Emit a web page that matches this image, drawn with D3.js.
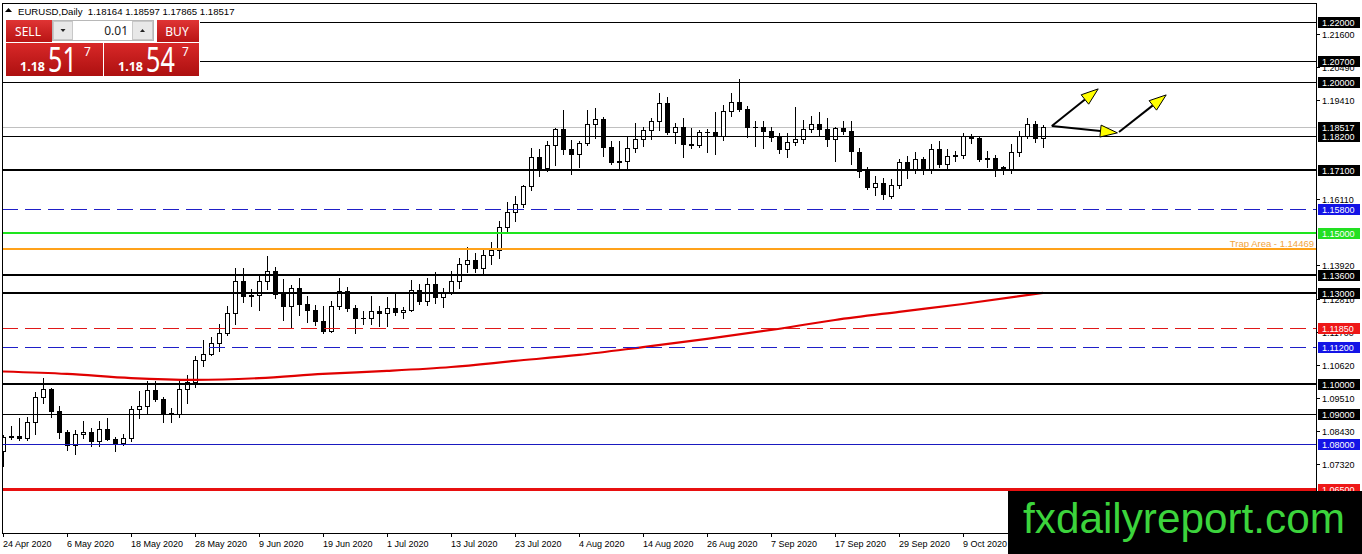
<!DOCTYPE html>
<html><head><meta charset="utf-8">
<script src="https://cdn.jsdelivr.net/npm/d3@7/dist/d3.min.js"></script>
<style>
html,body{margin:0;padding:0;background:#fff;overflow:hidden}
svg{display:block;font-family:"Liberation Sans",Arial,sans-serif}
</style></head><body>
<svg id="c" width="1362" height="554"></svg>
<script>
// ---------- DATA ----------
const symbolTitle = "EURUSD,Daily  1.18164 1.18597 1.17865 1.18517";
const dates = [
"2020-04-24","2020-04-27","2020-04-28","2020-04-29","2020-04-30",
"2020-05-01","2020-05-04","2020-05-05","2020-05-06","2020-05-07","2020-05-08","2020-05-11","2020-05-12","2020-05-13","2020-05-14","2020-05-15",
"2020-05-18","2020-05-19","2020-05-20","2020-05-21","2020-05-22","2020-05-25","2020-05-26","2020-05-27","2020-05-28","2020-05-29",
"2020-06-01","2020-06-02","2020-06-03","2020-06-04","2020-06-05","2020-06-08","2020-06-09","2020-06-10","2020-06-11","2020-06-12",
"2020-06-15","2020-06-16","2020-06-17","2020-06-18","2020-06-19","2020-06-22","2020-06-23","2020-06-24","2020-06-25","2020-06-26","2020-06-29","2020-06-30",
"2020-07-01","2020-07-02","2020-07-03","2020-07-06","2020-07-07","2020-07-08","2020-07-09","2020-07-10","2020-07-13","2020-07-14","2020-07-15","2020-07-16","2020-07-17",
"2020-07-20","2020-07-21","2020-07-22","2020-07-23","2020-07-24","2020-07-27","2020-07-28","2020-07-29","2020-07-30","2020-07-31",
"2020-08-03","2020-08-04","2020-08-05","2020-08-06","2020-08-07","2020-08-10","2020-08-11","2020-08-12","2020-08-13","2020-08-14",
"2020-08-17","2020-08-18","2020-08-19","2020-08-20","2020-08-21","2020-08-24","2020-08-25","2020-08-26","2020-08-27","2020-08-28","2020-08-31",
"2020-09-01","2020-09-02","2020-09-03","2020-09-04","2020-09-07","2020-09-08","2020-09-09","2020-09-10","2020-09-11",
"2020-09-14","2020-09-15","2020-09-16","2020-09-17","2020-09-18","2020-09-21","2020-09-22","2020-09-23","2020-09-24","2020-09-25","2020-09-28","2020-09-29","2020-09-30",
"2020-10-01","2020-10-02","2020-10-05","2020-10-06","2020-10-07","2020-10-08","2020-10-09","2020-10-12","2020-10-13","2020-10-14","2020-10-15","2020-10-16",
"2020-10-19","2020-10-20","2020-10-21","2020-10-22","2020-10-23"];
const open = [1.0776,1.0822,1.0827,1.0820,1.0874,1.0954,1.0982,1.0909,1.0838,1.0795,1.0834,1.0840,1.0808,1.0850,1.0817,1.0804,1.0820,1.0917,1.0924,1.0980,
1.0950,1.0901,1.0900,1.0981,1.1004,1.1077,1.1098,1.1134,1.1168,1.1235,1.1340,1.1290,1.1294,1.1341,1.1372,1.1298,1.1256,1.1318,1.1263,1.1244,
1.1206,1.1176,1.1258,1.1308,1.1251,1.1219,1.1218,1.1240,1.1233,1.1251,1.1237,1.1245,1.1310,1.1274,1.1330,1.1287,1.1300,1.1341,1.1396,1.1411,
1.1382,1.1428,1.1444,1.1521,1.1570,1.1595,1.1656,1.1752,1.1717,1.1791,1.1845,1.1777,1.1761,1.1800,1.1860,1.1877,1.1785,1.1736,1.1738,1.1783,
1.1811,1.1842,1.1870,1.1931,1.1836,1.1851,1.1795,1.1791,1.1834,1.1836,1.1822,1.1903,1.1936,1.1911,1.1852,1.1850,1.1837,1.1818,1.1779,1.1802,
1.1813,1.1845,1.1862,1.1845,1.1812,1.1848,1.1838,1.1769,1.1705,1.1654,1.1667,1.1622,1.1660,1.1735,1.1712,1.1745,1.1708,1.1778,1.1728,1.1755,
1.1757,1.1823,1.1815,1.1745,1.1747,1.1720,1.1712,1.1768,1.1820,1.1860,1.18164];
const high = [1.0829,1.0860,1.0887,1.0889,1.0973,1.1019,1.0985,1.0927,1.0846,1.0847,1.0876,1.0852,1.0875,1.0887,1.0823,1.0832,1.0927,1.0975,1.1008,1.1008,
1.0956,1.0918,1.1010,1.1030,1.1090,1.1146,1.1155,1.1198,1.1257,1.1384,1.1384,1.1315,1.1360,1.1422,1.1388,1.1346,1.1328,1.1350,1.1292,1.1260,
1.1257,1.1273,1.1349,1.1322,1.1261,1.1241,1.1289,1.1257,1.1287,1.1303,1.1255,1.1345,1.1330,1.1349,1.1371,1.1317,1.1375,1.1416,1.1452,1.1434,
1.1442,1.1469,1.1540,1.1601,1.1622,1.1660,1.1781,1.1777,1.1805,1.1848,1.1908,1.1809,1.1806,1.1909,1.1916,1.1884,1.1804,1.1806,1.1817,1.1866,
1.1851,1.1882,1.1966,1.1951,1.1866,1.1883,1.1849,1.1842,1.1845,1.1900,1.1926,1.1966,1.2011,1.1920,1.1870,1.1872,1.1850,1.1833,1.1833,1.1917,
1.1874,1.1887,1.1900,1.1882,1.1850,1.1872,1.1872,1.1782,1.1718,1.1689,1.1681,1.1679,1.1745,1.1754,1.1770,1.1753,1.1795,1.1806,1.1778,1.1772,
1.1831,1.1829,1.1822,1.1773,1.1760,1.1723,1.1794,1.1838,1.1881,1.1870,1.18597];
const low = [1.0727,1.0816,1.0812,1.0812,1.0832,1.0937,1.0890,1.0818,1.0781,1.0766,1.0820,1.0794,1.0792,1.0812,1.0775,1.0795,1.0808,1.0885,1.0902,1.0942,
1.0871,1.0871,1.0890,1.0934,1.0988,1.1059,1.1094,1.1107,1.1161,1.1196,1.1272,1.1259,1.1245,1.1315,1.1285,1.1211,1.1188,1.1227,1.1205,1.1194,
1.1168,1.1172,1.1247,1.1240,1.1167,1.1199,1.1196,1.1190,1.1190,1.1227,1.1219,1.1241,1.1265,1.1260,1.1267,1.1255,1.1298,1.1317,1.1371,1.1370,
1.1368,1.1396,1.1416,1.1507,1.1538,1.1587,1.1641,1.1689,1.1704,1.1726,1.1762,1.1696,1.1718,1.1792,1.1816,1.1754,1.1728,1.1711,1.1712,1.1770,
1.1788,1.1811,1.1840,1.1829,1.1798,1.1753,1.1782,1.1786,1.1768,1.1762,1.1810,1.1887,1.1903,1.1819,1.1789,1.1781,1.1805,1.1765,1.1753,1.1793,
1.1800,1.1834,1.1821,1.1789,1.1737,1.1827,1.1728,1.1685,1.1645,1.1627,1.1612,1.1615,1.1650,1.1683,1.1700,1.1695,1.1700,1.1720,1.1717,1.1740,
1.1750,1.1800,1.1737,1.1720,1.1688,1.1695,1.1700,1.1755,1.1816,1.1802,1.17865];
const close = [1.0822,1.0827,1.0820,1.0874,1.0954,1.0982,1.0909,1.0838,1.0795,1.0834,1.0840,1.0808,1.0850,1.0817,1.0804,1.0820,1.0917,1.0924,1.0980,1.0950,
1.0901,1.0900,1.0981,1.1004,1.1077,1.1098,1.1134,1.1168,1.1235,1.1340,1.1290,1.1294,1.1341,1.1372,1.1298,1.1256,1.1318,1.1263,1.1244,1.1206,
1.1176,1.1258,1.1308,1.1251,1.1219,1.1218,1.1240,1.1233,1.1251,1.1237,1.1245,1.1310,1.1274,1.1330,1.1287,1.1300,1.1341,1.1396,1.1411,1.1382,
1.1428,1.1444,1.1521,1.1570,1.1595,1.1656,1.1752,1.1717,1.1791,1.1845,1.1777,1.1761,1.1800,1.1860,1.1877,1.1785,1.1736,1.1738,1.1783,1.1811,
1.1842,1.1870,1.1931,1.1836,1.1851,1.1795,1.1791,1.1836,1.1836,1.1822,1.1903,1.1936,1.1911,1.1852,1.1850,1.1837,1.1818,1.1779,1.1802,1.1813,
1.1845,1.1862,1.1845,1.1812,1.1848,1.1838,1.1772,1.1705,1.1652,1.1667,1.1630,1.1660,1.1735,1.1712,1.1745,1.1708,1.1778,1.1728,1.1755,1.1757,
1.1823,1.1815,1.1745,1.1747,1.1711,1.1712,1.1768,1.1820,1.1860,1.1816,1.18517];

// moving average read at sample bars
const maBars   = [0,8,16,24,32,40,48,56,64,72,80,88,96,104,112,120,130];
const maValues = [1.1040,1.1032,1.1018,1.1012,1.1018,1.1032,1.1042,1.1055,1.1075,1.1095,1.1121,1.1148,1.1178,1.1211,1.1238,1.1264,1.1301];

// horizontal levels
const levelPrices = [1.22000,1.20700,1.20000,1.18200,1.17100,1.15800,1.15000,1.14469,1.13600,1.13000,1.11850,1.11200,1.10000,1.09000,1.08000,1.06500];
const levelKinds  = ["black","black","black","black","blackBold","blueDash","green","orange","blackBold","blackBold","redDash","blueDash","blackBold","black","blue","redBold"];
const boxedPrices = [1.22000,1.20700,1.20000,1.18517,1.18200,1.17100,1.15800,1.15000,1.13600,1.13000,1.11850,1.11200,1.10000,1.09000,1.08000,1.06500];
const boxedKinds  = ["k","k","k","k","k","k","b","g","k","k","r","b","k","k","b","r"];
const bidPrice = 1.18517;
const trapLabel = "Trap Area - 1.14469";
const trapPrice = 1.14469;

const priceTicks = [1.21600,1.20490,1.19410,1.16110,1.13920,1.12810,1.11700,1.10620,1.09510,1.08430,1.07320];
const dateTickBars = [0,8,16,24,32,40,48,56,64,72,80,88,96,104,112,120,128];
const dateLabels = ["24 Apr 2020","6 May 2020","18 May 2020","28 May 2020","9 Jun 2020","19 Jun 2020","1 Jul 2020","13 Jul 2020",
"23 Jul 2020","4 Aug 2020","14 Aug 2020","26 Aug 2020","7 Sep 2020","17 Sep 2020","29 Sep 2020","9 Oct 2020","21 Oct 2020"];

// annotation arrows (bar index, price)
const arrows = [
  {x1:131.1,p1:1.1855,x2:136.9,p2:1.1978},
  {x1:131.1,p1:1.1855,x2:139.3,p2:1.1832},
  {x1:139.5,p1:1.1835,x2:145.4,p2:1.1958}
];
const sellPrice = ["1.18","51","7"];
const buyPrice  = ["1.18","54","7"];
const lotSize = "0.01";
const watermark = "fxdailyreport.com";

// ---------- DRAW ----------
const svg = d3.select("#c");
const L = 2, R = 1316, T = 3, B = 533;
const x = d3.scaleLinear().domain([0,130]).range([3,1043]);
const y = d3.scaleLinear().domain([1.065,1.22]).range([489,22]);
const px = v => Math.round(v) + 0.5;

const defs = svg.append("defs");
defs.append("clipPath").attr("id","plot").append("rect").attr("x",L).attr("y",T).attr("width",R-L).attr("height",B-T);
const g1 = defs.append("linearGradient").attr("id","red").attr("x1",0).attr("y1",0).attr("x2",0).attr("y2",1);
g1.append("stop").attr("offset","0%").attr("stop-color","#e03434");
g1.append("stop").attr("offset","100%").attr("stop-color","#b81414");
const g2 = defs.append("linearGradient").attr("id","red2").attr("x1",0).attr("y1",0).attr("x2",0).attr("y2",1);
g2.append("stop").attr("offset","0%").attr("stop-color","#d82828");
g2.append("stop").attr("offset","100%").attr("stop-color","#ad1010");

svg.append("rect").attr("width",1362).attr("height",554).attr("fill","#fff");
const plot = svg.append("g").attr("clip-path","url(#plot)");

// bid line (behind)
plot.append("line").attr("x1",L).attr("x2",R).attr("y1",px(y(bidPrice))).attr("y2",px(y(bidPrice)))
  .attr("stroke","#c0c0c0").attr("stroke-width",1).attr("shape-rendering","crispEdges");

// candles
const idx = d3.range(open.length);
const cg = plot.append("g").attr("shape-rendering","crispEdges");
idx.forEach(i=>{
  const cx = Math.round(x(i));
  cg.append("line").attr("x1",cx+0.5).attr("x2",cx+0.5)
    .attr("y1",Math.round(y(high[i]))).attr("y2",Math.round(y(low[i]))+1)
    .attr("stroke","#000").attr("stroke-width",1);
  const top = Math.round(y(Math.max(open[i],close[i])));
  const bot = Math.round(y(Math.min(open[i],close[i])));
  const bull = close[i] >= open[i];
  if (bot - top < 1) {
    cg.append("line").attr("x1",cx-2).attr("x2",cx+3).attr("y1",top+0.5).attr("y2",top+0.5).attr("stroke","#000");
  } else {
    cg.append("rect").attr("x",cx-1.5).attr("y",top+0.5).attr("width",4).attr("height",bot-top)
      .attr("fill", bull ? "#fff" : "#000").attr("stroke","#000").attr("stroke-width",1);
  }
});

// moving average
plot.append("path").datum(maBars.map((b,k)=>[b,maValues[k]]))
  .attr("d", d3.line().x(d=>x(d[0])).y(d=>y(d[1])).curve(d3.curveMonotoneX))
  .attr("fill","none").attr("stroke","#e00000").attr("stroke-width",2.2);
plot.append("line").attr("x1",L).attr("x2",x(0)).attr("y1",y(maValues[0])).attr("y2",y(maValues[0]))
  .attr("stroke","#e00000").attr("stroke-width",2.2);

// horizontal levels
const kindStyle = {
  black:{c:"#000",w:1,d:null}, blackBold:{c:"#000",w:2,d:null},
  blueDash:{c:"#1f1fc8",w:1,d:"16,7"}, redDash:{c:"#e01818",w:1,d:"16,7"},
  green:{c:"#1ee51e",w:2,d:null}, orange:{c:"#ffa21a",w:2,d:null},
  blue:{c:"#1a1ac0",w:1,d:null}, redBold:{c:"#e81010",w:3,d:null}
};
const lg = plot.append("g").attr("shape-rendering","crispEdges");
levelPrices.forEach((p,k)=>{
  const s = kindStyle[levelKinds[k]];
  const yy = s.w % 2 ? px(y(p)) : Math.round(y(p));
  lg.append("line").attr("x1",L).attr("x2",R).attr("y1",yy).attr("y2",yy)
    .attr("stroke",s.c).attr("stroke-width",s.w).attr("stroke-dasharray",s.d);
});

// trap area label
svg.append("text").attr("x",1314).attr("y",y(trapPrice)-2).attr("text-anchor","end")
  .attr("font-size",9.5).attr("fill","#f2a43a").text(trapLabel);

// arrows
const ag = svg.append("g");
arrows.forEach(a=>{
  const X1=x(a.x1), Y1=y(a.p1), X2=x(a.x2), Y2=y(a.p2);
  const ang = Math.atan2(Y2-Y1, X2-X1);
  const len = 17, hw = 6;
  const bx = X2 - len*Math.cos(ang), by = Y2 - len*Math.sin(ang);
  ag.append("line").attr("x1",X1).attr("y1",Y1).attr("x2",bx).attr("y2",by)
    .attr("stroke","#000").attr("stroke-width",2);
  const pts = [[X2,Y2],[bx - hw*Math.sin(ang), by + hw*Math.cos(ang)],[bx + hw*Math.sin(ang), by - hw*Math.cos(ang)]];
  ag.append("path").attr("d","M"+pts.map(p=>p.join(",")).join("L")+"Z")
    .attr("fill","#ffff00").attr("stroke","#000").attr("stroke-width",1);
});

// frame
const fr = svg.append("g").attr("shape-rendering","crispEdges");
fr.append("rect").attr("x",L+0.5).attr("y",T+0.5).attr("width",R-L).attr("height",B-T)
  .attr("fill","none").attr("stroke","#000").attr("stroke-width",1);

// price ticks
const tg = svg.append("g");
priceTicks.forEach(p=>{
  const yy = px(y(p));
  tg.append("line").attr("x1",R).attr("x2",R+4).attr("y1",yy).attr("y2",yy).attr("stroke","#000").attr("shape-rendering","crispEdges");
  tg.append("text").attr("x",1322).attr("y",yy+3.5).attr("font-size",9).attr("fill","#000").text(p.toFixed(5));
});
// price boxes
const boxFill = {k:"#000",b:"#1414e6",g:"#22e022",r:"#ee1818"};
boxedPrices.forEach((p,k)=>{
  const yy = Math.round(y(p));
  tg.append("rect").attr("x",1318).attr("y",yy-5).attr("width",42).attr("height",11)
    .attr("fill",boxFill[boxedKinds[k]]).attr("shape-rendering","crispEdges");
  tg.append("text").attr("x",1322).attr("y",yy+4).attr("font-size",9).attr("fill","#fff").text(p.toFixed(5));
});

// date axis
dateTickBars.forEach((b,k)=>{
  const xx = px(x(b));
  tg.append("line").attr("x1",xx).attr("x2",xx).attr("y1",B).attr("y2",B+4).attr("stroke","#000").attr("shape-rendering","crispEdges");
  tg.append("text").attr("x",xx-0.5).attr("y",546.5).attr("font-size",9).attr("fill","#000").text(dateLabels[k]);
});

// header
svg.append("path").attr("d","M5,12 L8.5,8 L12,12 Z").attr("fill","#000");
svg.append("text").attr("x",18).attr("y",15).attr("font-size",9.6).attr("fill","#000")
  .attr("xml:space","preserve").style("white-space","pre").text(symbolTitle);

// one-click panel
const pn = svg.append("g");
pn.append("rect").attr("x",3).attr("y",18).attr("width",197).attr("height",59).attr("fill","#fff");
pn.append("rect").attr("x",6).attr("y",20).attr("width",46).attr("height",22).attr("fill","url(#red)");
pn.append("rect").attr("x",157).attr("y",20).attr("width",42).attr("height",22).attr("fill","url(#red)");
pn.append("rect").attr("x",52.5).attr("y",20.5).attr("width",101).attr("height",20).attr("fill","#fff").attr("stroke","#b8b8b8");
pn.append("rect").attr("x",53.5).attr("y",21.5).attr("width",19).attr("height",18).attr("fill","#e8e8e8").attr("stroke","#c8c8c8");
pn.append("rect").attr("x",132.5).attr("y",21.5).attr("width",20).attr("height",18).attr("fill","#e8e8e8").attr("stroke","#c8c8c8");
pn.append("path").attr("d","M60.5,29 L65.5,29 L63,32 Z").attr("fill","#222");
pn.append("path").attr("d","M140,32 L145,32 L142.5,29 Z").attr("fill","#222");
pn.append("text").attr("x",128).attr("y",35).attr("text-anchor","end").attr("font-family","Noto Sans").attr("font-size",12).attr("fill","#222").text(lotSize);
pn.append("text").attr("x",28).attr("y",35.5).attr("text-anchor","middle").attr("font-family","Noto Sans").attr("font-size",12).attr("fill","#fff").text("SELL");
pn.append("text").attr("x",177).attr("y",35.5).attr("text-anchor","middle").attr("font-family","Noto Sans").attr("font-size",12).attr("fill","#fff").text("BUY");
pn.append("rect").attr("x",6).attr("y",43).attr("width",97).attr("height",33).attr("fill","url(#red2)");
pn.append("rect").attr("x",104).attr("y",43).attr("width",95).attr("height",33).attr("fill","url(#red2)");
function bigPrice(x0, parts){
  pn.append("text").attr("x",x0).attr("y",71).attr("font-family","Noto Sans").attr("font-weight","bold").attr("font-size",12.5).attr("fill","#fff").text(parts[0]);
  pn.append("text").attr("transform",`translate(${x0+28},72) scale(0.74,1)`).attr("font-family","Noto Sans").attr("font-size",34)
    .attr("fill","#fff").text(parts[1]);
  pn.append("text").attr("x",x0+64).attr("y",56).attr("font-family","Noto Sans").attr("font-size",12).attr("fill","#fff").text(parts[2]);
}
bigPrice(20, sellPrice);
bigPrice(118, buyPrice);

// watermark
svg.append("rect").attr("x",1008).attr("y",491).attr("width",354).attr("height",63).attr("fill","#000");
svg.append("text").attr("x",1023).attr("y",533).attr("font-size",43).attr("fill","#3cd43c")
  .attr("textLength",322).attr("lengthAdjust","spacingAndGlyphs").text(watermark);
</script>
</body></html>
